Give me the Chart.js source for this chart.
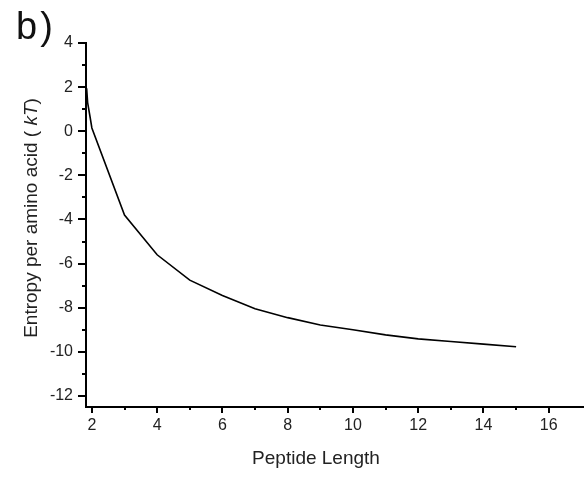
<!DOCTYPE html>
<html>
<head>
<meta charset="utf-8">
<script src="https://cdn.jsdelivr.net/npm/chart.js@4/dist/chart.umd.min.js"></script>
<style>
  html, body { margin: 0; padding: 0; background: #fff; }
  #wrap { position: relative; width: 587px; height: 477px; }
  #panel { position: absolute; left: 16px; top: 5px; font: 38px "Liberation Sans", Arial, sans-serif; color: #111; letter-spacing: 3px; }
</style>
</head>
<body>
<div id="wrap">
  <canvas id="chart" width="587" height="477"></canvas>
  <div id="panel">b)</div>
</div>
<script>
// peptide length vs entropy per amino acid
const peptideLength = [1.84, 1.87, 1.95, 2, 3, 4, 5, 6, 7, 8, 9, 10, 11, 12, 13, 14, 15];
const entropyPerAA = [1.95, 1.3, 0.6, 0.15, -3.8, -5.6, -6.75, -7.45, -8.05, -8.45, -8.78, -9.0, -9.23, -9.41, -9.53, -9.65, -9.77];

const xTicks = [2, 3, 4, 5, 6, 7, 8, 9, 10, 11, 12, 13, 14, 15, 16];
const yTicks = [-12, -11, -10, -9, -8, -7, -6, -5, -4, -3, -2, -1, 0, 1, 2, 3, 4];

const FONT = '"Liberation Sans", Arial, sans-serif';
const INK = '#222';

// draws major/minor tick marks and the axis titles
const axisDecor = {
    id: 'axisDecor',
    afterDraw(chart) {
        const ctx = chart.ctx;
        const area = chart.chartArea;
        const xs = chart.scales.x;
        const ys = chart.scales.y;
        ctx.save();
        ctx.strokeStyle = '#000';
        ctx.lineWidth = 2;
        xTicks.forEach(v => {
            const px = Math.round(xs.getPixelForValue(v));
            const len = v % 2 === 0 ? 6 : 3;
            ctx.beginPath();
            ctx.moveTo(px, area.bottom);
            ctx.lineTo(px, area.bottom + len);
            ctx.stroke();
        });
        yTicks.forEach(v => {
            const py = Math.round(ys.getPixelForValue(v));
            const len = v % 2 === 0 ? 8 : 4;
            ctx.beginPath();
            ctx.moveTo(area.left, py);
            ctx.lineTo(area.left - len, py);
            ctx.stroke();
        });

        // x title
        ctx.fillStyle = INK;
        ctx.font = '19px ' + FONT;
        ctx.textAlign = 'center';
        ctx.textBaseline = 'alphabetic';
        ctx.fillText('Peptide Length', 316, 464);

        // y title with italic kT
        const parts = [
            { t: 'Entropy per amino acid ( ', f: '19px ' + FONT },
            { t: 'kT', f: 'italic 19px ' + FONT },
            { t: ')', f: '19px ' + FONT }
        ];
        let total = 0;
        parts.forEach(p => { ctx.font = p.f; p.w = ctx.measureText(p.t).width; total += p.w; });
        ctx.translate(37, 218);
        ctx.rotate(-Math.PI / 2);
        ctx.textAlign = 'left';
        let cx = -total / 2;
        parts.forEach(p => { ctx.font = p.f; ctx.fillText(p.t, cx, 0); cx += p.w; });
        ctx.restore();
    }
};

const points = peptideLength.map((x, i) => ({ x: x, y: entropyPerAA[i] }));

new Chart(document.getElementById('chart'), {
    type: 'line',
    data: {
        datasets: [{
            data: points,
            borderColor: '#000',
            borderWidth: 1.6,
            pointRadius: 0,
            tension: 0,
            fill: false
        }]
    },
    options: {
        responsive: false,
        animation: false,
        layout: { padding: { top: 43, right: 4, left: 0, bottom: 0 } },
        plugins: {
            legend: { display: false },
            tooltip: { enabled: false }
        },
        scales: {
            x: {
                type: 'linear',
                min: 1.82,
                max: 17.05,
                afterBuildTicks: s => { s.ticks = xTicks.map(v => ({ value: v })); },
                afterFit: s => { s.height = 70; },
                grid: { display: true, drawOnChartArea: false, drawTicks: false },
                border: { color: '#000', width: 2 },
                ticks: {
                    padding: 9,
                    maxRotation: 0,
                    autoSkip: false,
                    color: INK,
                    font: { family: FONT, size: 16 },
                    callback: v => (v % 2 === 0 ? String(v) : '')
                }
            },
            y: {
                type: 'linear',
                min: -12.5,
                max: 4,
                afterBuildTicks: s => { s.ticks = yTicks.map(v => ({ value: v })); },
                afterFit: s => { s.width = 86; },
                grid: { display: true, drawOnChartArea: false, drawTicks: false },
                border: { color: '#000', width: 2 },
                ticks: {
                    padding: 13,
                    autoSkip: false,
                    color: INK,
                    font: { family: FONT, size: 16 },
                    callback: v => (v % 2 === 0 ? String(v) : '')
                }
            }
        }
    },
    plugins: [axisDecor]
});
</script>
</body>
</html>
